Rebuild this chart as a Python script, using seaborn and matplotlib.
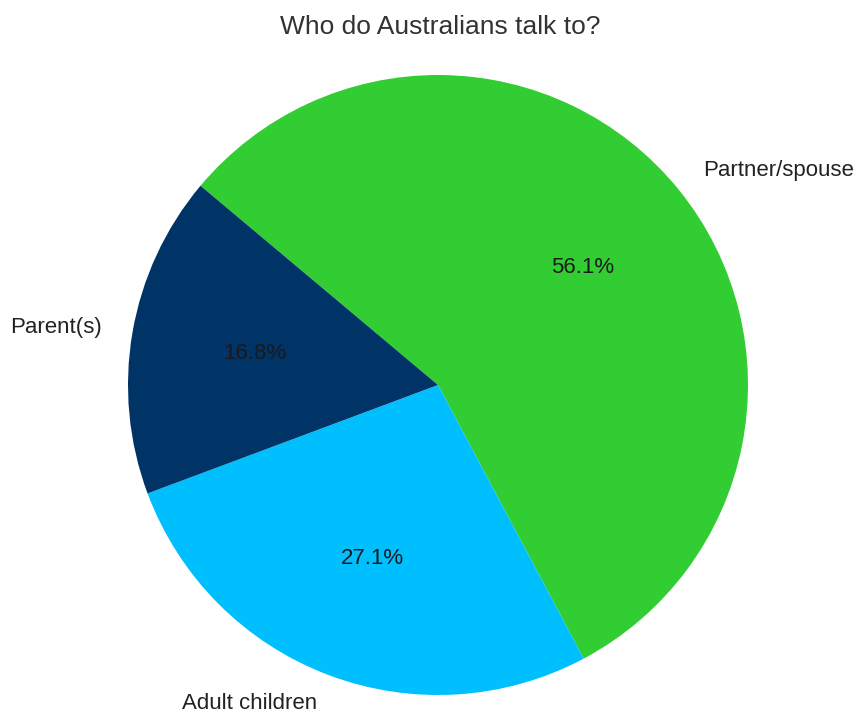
import matplotlib
matplotlib.use("Agg")
import matplotlib.pyplot as plt
import seaborn as sns

# Who people talk to, share of respondents (%)
categories = ["Partner/spouse", "Adult children", "Parent(s)"]
shares = [56.1, 27.1, 16.8]
slice_colors = ["#32CD32", "#00BFFF", "#003366"]

sns.set_theme(style="white")
plt.rcParams["font.family"] = ["Liberation Sans", "DejaVu Sans"]

fig = plt.figure(figsize=(8.58, 7.18), dpi=100)
ax = fig.add_axes([438/858 - 310/858, 1 - (385 + 310)/718, 620/858, 620/718])

palette = sns.color_palette(slice_colors)
wedges, texts, autotexts = ax.pie(
    shares,
    labels=categories,
    colors=palette,
    autopct="%1.1f%%",
    startangle=140,
    counterclock=False,
    labeldistance=1.1,
    pctdistance=0.6,
    wedgeprops={"linewidth": 0},
    textprops={"fontsize": 16, "color": "#222222"},
)
for t in autotexts:
    t.set_color("#1a1a1a")
ax.set_aspect("equal")
ax.set_xlim(-1, 1)
ax.set_ylim(-1, 1)

fig.text(0.513, 1 - 27/718, "Who do Australians talk to?", ha="center", va="center",
         fontsize=19, color="#333333")

fig.savefig("out.png", dpi=100, facecolor="white")
